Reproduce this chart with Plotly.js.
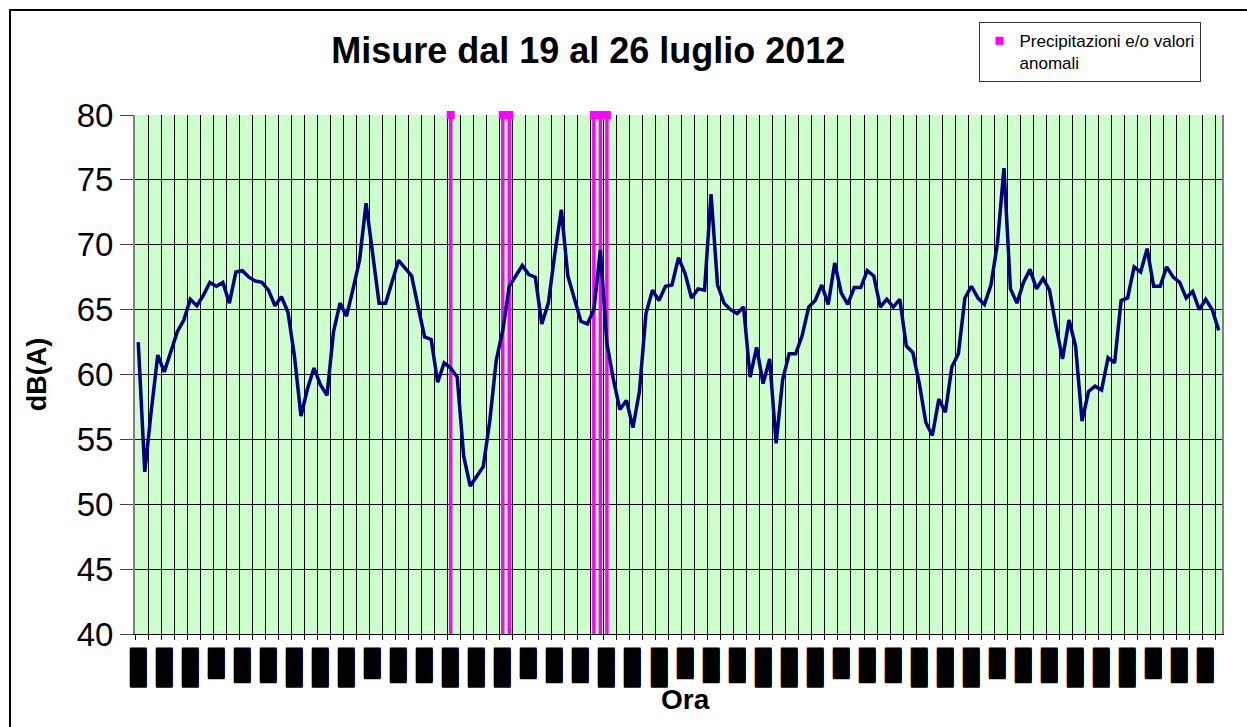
<!DOCTYPE html>
<html>
<head>
<meta charset="utf-8">
<script src="https://cdn.plot.ly/plotly-3.0.1.min.js"></script>
<style>
  html, body { margin: 0; padding: 0; background: #ffffff; overflow: hidden; }
  #wrap { position: relative; width: 1247px; height: 727px; }
  #chart { position: absolute; left: 0; top: 0; width: 1247px; height: 727px; }
  #frame { position: absolute; left: 9px; top: 9px; width: 1300px; height: 800px;
           border-left: 2px solid #000; border-top: 2px solid #000; pointer-events: none; }
</style>
</head>
<body>
<div id="wrap"><div id="chart"></div><div id="frame"></div></div>
<script>
// Hourly noise levels dB(A), 19-26 July 2012
const levels = [
  62.5, 52.5, 57.2, 61.5, 60.2, 61.7, 63.3, 64.2, 65.8, 65.3, 66.1, 67.1,
  66.8, 67.1, 65.5, 67.9, 68.0, 67.5, 67.2, 67.1, 66.5, 65.3, 66.0, 64.8,
  61.4, 56.8, 58.9, 60.5, 59.2, 58.4, 63.3, 65.5, 64.5, 66.6, 68.8, 73.2,
  69.3, 65.5, 65.5, 67.2, 68.8, 68.2, 67.6, 65.2, 62.9, 62.7, 59.4, 60.9,
  60.5, 59.8, 53.7, 51.4, 52.1, 52.9, 56.4, 61.1, 63.4, 66.8, 67.6, 68.4,
  67.7, 67.5, 63.9, 65.5, 69.3, 72.7, 67.6, 65.8, 64.1, 63.9, 65.0, 69.6,
  62.4, 59.6, 57.3, 58.0, 55.9, 58.7, 64.7, 66.5, 65.7, 66.8, 66.9, 69.0,
  67.8, 65.9, 66.6, 66.5, 73.9, 66.9, 65.5, 65.0, 64.7, 65.2, 59.8, 62.1,
  59.3, 61.2, 54.7, 59.6, 61.6, 61.6, 63.0, 65.2, 65.7, 66.9, 65.4, 68.6,
  66.3, 65.4, 66.7, 66.7, 68.0, 67.6, 65.2, 65.8, 65.2, 65.8, 62.2, 61.7,
  59.3, 56.3, 55.3, 58.1, 57.1, 60.6, 61.6, 65.9, 66.8, 65.9, 65.4, 66.9,
  70.1, 75.9, 66.6, 65.5, 67.1, 68.1, 66.6, 67.4, 66.5, 63.7, 61.2, 64.2,
  62.2, 56.4, 58.7, 59.1, 58.8, 61.3, 60.9, 65.7, 65.9, 68.3, 67.9, 69.7,
  66.8, 66.8, 68.3, 67.5, 67.1, 65.9, 66.4, 65.0, 65.8, 65.0, 63.4
];

// Hours flagged as rain and/or anomalous values
const anomalyHours  = [48, 56, 57, 70, 71, 72];
const anomalyLevels = [80, 80, 80, 80, 80, 80];
const anomalyName = 'Precipitazioni e/o valori<br>anomali';

// y axis
const yMin = 40, yMax = 80;
const yTicks = [40, 45, 50, 55, 60, 65, 70, 75, 80];

// x tick labels (rendered as solid black blocks in the original)
const T = '\u2590\u2588\u2588\u2588\u2588';
const M = '\u2588\u2588\u2588\u2588';
const S = '\u2590\u2588\u2588\u2588';
const tickLabels = [
  T, T, T, S, M, M,  T, T, T, S, M, M,  T, T, T, S, M, M,
  T, T, T, S, M, M,  T, T, T, S, M, M,  T, T, T, S, M, M,
  T, T, T, S, M, M
];
const labelStep = 4;

const hourIndex = levels.map((_, i) => i);
const tickPositions = hourIndex.filter(i => i % labelStep === 0);

const anomalyTrace = {
  type: 'scatter',
  mode: 'markers',
  x: anomalyHours,
  y: anomalyLevels,
  name: anomalyName,
  marker: { symbol: 'square', size: 8, color: '#FF00FF' },
  error_y: {
    type: 'data', symmetric: false,
    array: anomalyLevels.map(() => 0),
    arrayminus: anomalyLevels.map(v => v - yMin),
    color: '#FF00FF', thickness: 3.5, width: 0
  },
  cliponaxis: false,
  showlegend: true,
  hoverinfo: 'skip'
};

const levelTrace = {
  type: 'scatter',
  mode: 'lines',
  x: hourIndex,
  y: levels,
  name: 'dB(A)',
  line: { color: '#000080', width: 3.5 },
  showlegend: false
};

const layout = {
  width: 1247, height: 727,
  margin: { l: 135, r: 25, t: 115, b: 93 },
  paper_bgcolor: '#ffffff',
  plot_bgcolor: '#CCFFCC',
  font: { family: 'Liberation Sans, Arial, sans-serif', color: '#000' },
  title: {
    text: '<b>Misure dal 19 al 26 luglio 2012</b>',
    font: { family: 'Liberation Sans, Arial, sans-serif', size: 36, color: '#000' },
    xref: 'paper', x: 0.417, xanchor: 'center',
    yref: 'container', y: 0.931, yanchor: 'middle'
  },
  xaxis: {
    range: [-0.5, levels.length - 0.5],
    tickmode: 'array',
    tickvals: tickPositions,
    ticktext: tickLabels,
    tickangle: -90,
    tickfont: { family: 'DejaVu Sans Mono, monospace', size: 14, color: '#000',
                shadow: '1px 0 0 #000, -1px 0 0 #000' },
    ticks: '',
    ticklabelstandoff: 8,
    showgrid: false,
    zeroline: false,
    showline: true, linecolor: '#000', linewidth: 1,
    minor: {
      tickmode: 'linear', tick0: -0.5, dtick: 2,
      showgrid: true, gridcolor: '#000', gridwidth: 1,
      ticks: 'outside', ticklen: 5, tickcolor: '#000', tickwidth: 1
    },
    automargin: false,
    fixedrange: true
  },
  yaxis: {
    range: [yMin, yMax],
    tickmode: 'array',
    tickvals: yTicks,
    ticktext: yTicks.map(String),
    tickfont: { family: 'Liberation Sans, Arial, sans-serif', size: 33, color: '#000' },
    ticks: 'outside', ticklen: 13, tickcolor: '#444', tickwidth: 1,
    showgrid: true, gridcolor: '#000', gridwidth: 1,
    zeroline: false,
    showline: true, linecolor: '#808080', linewidth: 2, mirror: true,
    title: {
      text: '<b>dB(A)</b>',
      font: { family: 'Liberation Sans, Arial, sans-serif', size: 27, color: '#000' },
      standoff: 22
    },
    automargin: false,
    fixedrange: true
  },
  annotations: [{
    text: '<b>Ora</b>',
    font: { family: 'Liberation Sans, Arial, sans-serif', size: 28, color: '#000' },
    xref: 'paper', x: 0.506, xanchor: 'center',
    yref: 'paper', y: -0.127, yanchor: 'middle',
    showarrow: false
  }],
  showlegend: true,
  legend: {
    x: 0.776, xanchor: 'left', y: 1.179, yanchor: 'top',
    bgcolor: '#ffffff', bordercolor: '#333', borderwidth: 1,
    font: { family: 'Liberation Sans, Arial, sans-serif', size: 17, color: '#000' },
    valign: 'top', itemwidth: 30
  }
};

Plotly.newPlot('chart', [anomalyTrace, levelTrace], layout, { displayModeBar: false, staticPlot: true });
</script>
</body>
</html>
